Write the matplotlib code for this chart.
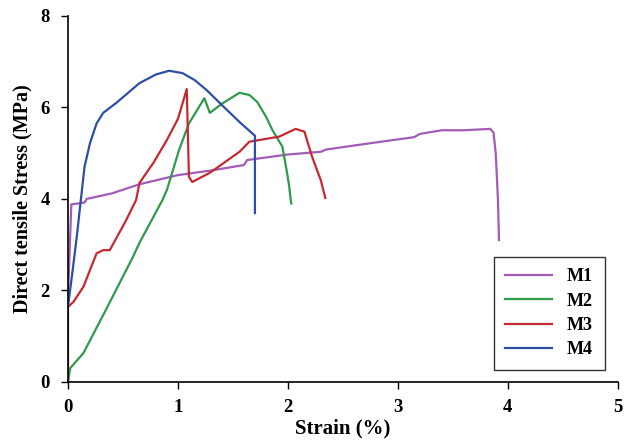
import matplotlib
matplotlib.use("Agg")
import matplotlib.pyplot as plt

# stress-strain curves (strain %, stress MPa)
m1_strain = [0, 0.03, 0.15, 0.17, 0.40, 0.65, 1.00, 1.30, 1.60, 1.63, 2.00, 2.30, 2.35,
             2.70, 3.00, 3.15, 3.20, 3.40, 3.60, 3.84, 3.87, 3.89, 3.91, 3.92]
m1_stress = [1.9, 3.88, 3.92, 4.00, 4.12, 4.32, 4.52, 4.62, 4.74, 4.85, 4.97, 5.03, 5.08,
             5.20, 5.30, 5.35, 5.42, 5.50, 5.50, 5.53, 5.45, 5.00, 4.00, 3.10]

m2_strain = [0, 0.02, 0.14, 0.35, 0.59, 0.65, 0.86, 0.90, 1.01, 1.10, 1.24, 1.29, 1.40,
             1.56, 1.65, 1.72, 1.80, 1.86, 1.95, 1.99, 2.01, 2.03]
m2_stress = [0.0, 0.30, 0.63, 1.60, 2.73, 3.04, 3.98, 4.20, 5.07, 5.65, 6.20, 5.88, 6.08,
             6.32, 6.27, 6.12, 5.80, 5.50, 5.14, 4.60, 4.30, 3.90]

m3_strain = [0, 0.0, 0.05, 0.14, 0.26, 0.32, 0.38, 0.53, 0.62, 0.65, 0.78, 0.90, 1.00, 1.08,
             1.10, 1.13, 1.29, 1.56, 1.65, 1.92, 2.07, 2.15, 2.22, 2.30, 2.34]
m3_stress = [0.0, 1.64, 1.75, 2.08, 2.81, 2.88, 2.88, 3.54, 3.98, 4.35, 4.80, 5.29, 5.75, 6.40,
             4.48, 4.37, 4.57, 5.03, 5.25, 5.36, 5.53, 5.47, 4.92, 4.40, 4.02]

m4_strain = [0, 0.04, 0.08, 0.12, 0.15, 0.20, 0.26, 0.32, 0.44, 0.65, 0.80, 0.92, 1.04,
             1.15, 1.26, 1.40, 1.56, 1.70, 1.70]
m4_stress = [1.65, 2.40, 3.18, 4.05, 4.70, 5.22, 5.65, 5.88, 6.10, 6.53, 6.72, 6.80, 6.75,
             6.60, 6.38, 6.05, 5.68, 5.38, 3.69]

labels = ["M1", "M2", "M3", "M4"]
colors = ["#a25bb8", "#2f9a4c", "#c42a30", "#2c4fa6"]

plt.rcParams["font.family"] = ["Liberation Serif", "DejaVu Serif"]
plt.rcParams["font.weight"] = "bold"

fig = plt.figure(figsize=(6.24, 4.41), dpi=100)
ax = fig.add_axes([0.109, 0.134, 0.881, 0.830])

series = [(m1_strain, m1_stress), (m2_strain, m2_stress),
          (m3_strain, m3_stress), (m4_strain, m4_stress)]
for (xs, ys), lab, col in zip(series, labels, colors):
    ax.plot(xs, ys, color=col, lw=1.6, label=lab)

ax.set_xlim(0, 5)
ax.set_ylim(0, 8)
ax.set_xticks(range(0, 6))
ax.set_yticks(range(0, 9, 2))
ax.tick_params(labelsize=13.5, width=1, length=5)
ax.tick_params(axis="x", pad=7)
ax.tick_params(axis="y", pad=8)
for lbl in ax.get_xticklabels() + ax.get_yticklabels():
    lbl.set_fontweight("bold")
ax.spines["top"].set_visible(False)
ax.spines["right"].set_visible(False)
ax.spines["left"].set_linewidth(1.2)
ax.spines["bottom"].set_linewidth(1.2)

ax.set_xlabel("Strain (%)", fontsize=15, fontweight="bold", labelpad=2)
ax.set_ylabel("Direct tensile Stress (MPa)", fontsize=14.5, fontweight="bold", labelpad=6)

leg = ax.legend(loc="lower right", bbox_to_anchor=(0.976, 0.033), borderaxespad=0,
                fontsize=13, fancybox=False, framealpha=1, edgecolor="#333333",
                handlelength=2.6, borderpad=0.65, labelspacing=0.4)
leg.get_frame().set_linewidth(1.0)
for t in leg.get_texts():
    t.set_fontweight("bold")

fig.savefig("out.png", dpi=100)
